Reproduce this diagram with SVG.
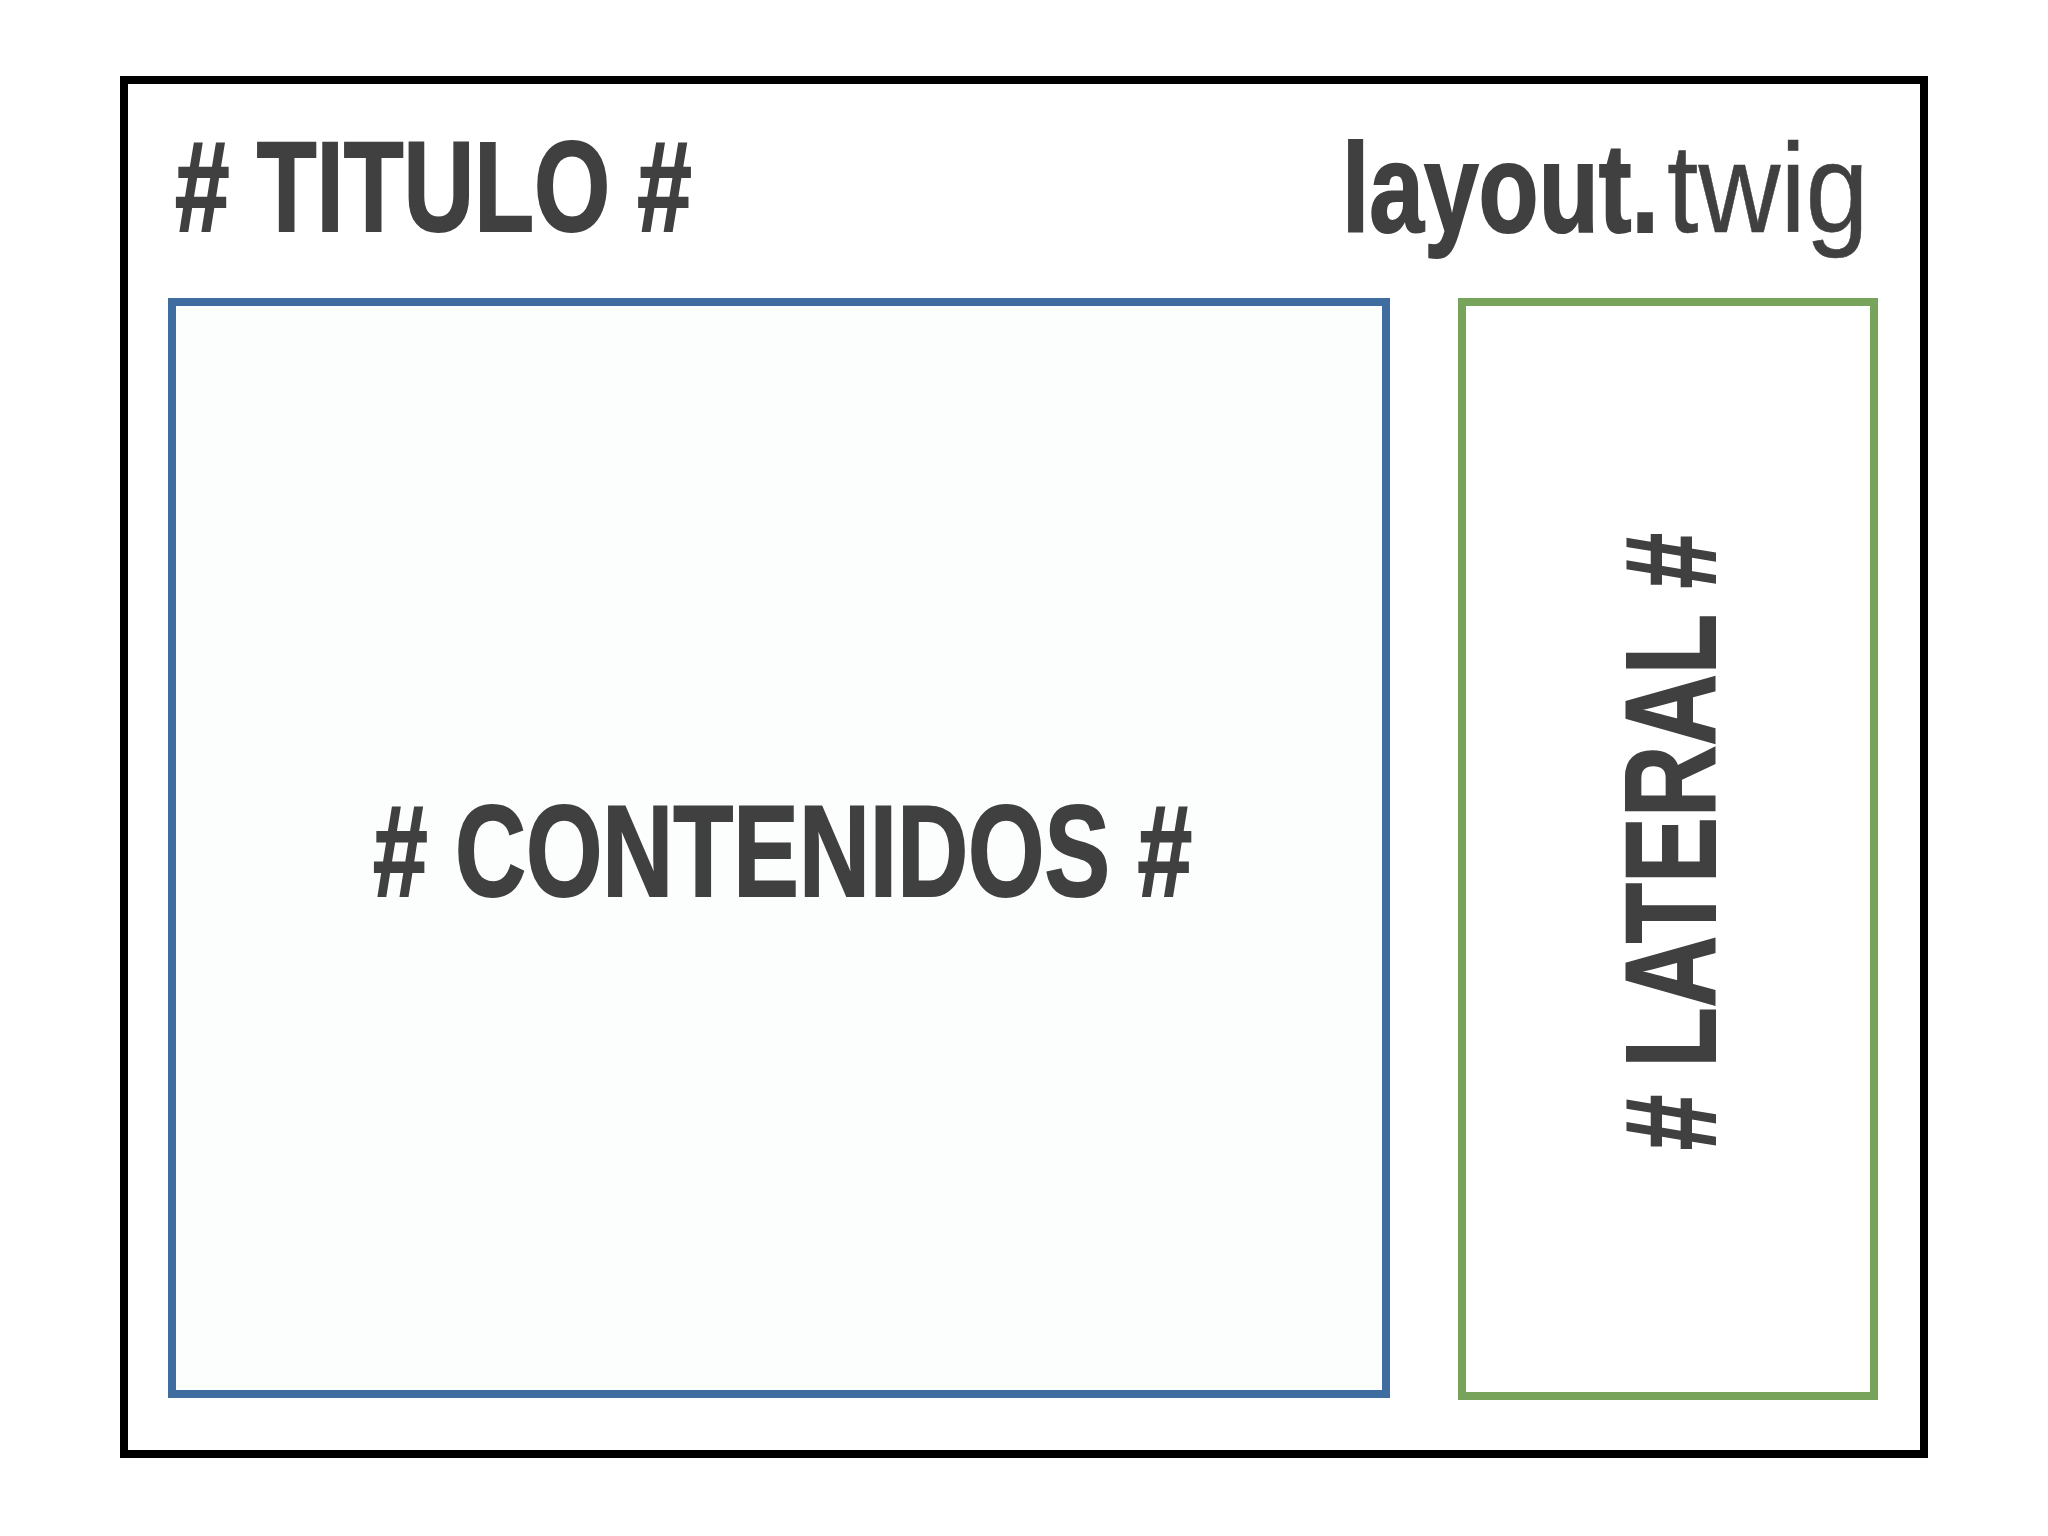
<svg xmlns="http://www.w3.org/2000/svg" width="2048" height="1536" viewBox="0 0 2048 1536">
<style>
.t{font-family:"Liberation Sans",Arial,sans-serif;fill:#404040;font-weight:bold;stroke:#404040;stroke-width:2;stroke-linejoin:miter}
.r{font-weight:normal;stroke-width:0.5}
.box{stroke-width:8}
</style>
<rect width="2048" height="1536" fill="#ffffff"/>
<g id="layout">
<rect x="124" y="80" width="1800" height="1374" fill="#ffffff" stroke="#000000" stroke-width="8"/>
<text class="t" transform="translate(175,231) scale(0.765,1)" font-size="128"># TITULO #</text>
<text class="t" transform="translate(1342,232) scale(0.78,1)" font-size="126">layout.</text>
<text class="t r" transform="translate(1667,232) scale(0.9,1)" font-size="126">twig</text>
</g>
<g id="contenidos">
<rect class="box" x="172" y="302" width="1214" height="1092" fill="#fcfdfd" stroke="#3f6da0"/>
<text class="t" transform="translate(373,896) scale(0.756,1)" font-size="130"># CONTENIDOS #</text>
</g>
<g id="lateral">
<rect class="box" x="1462" y="302" width="412" height="1094" fill="#ffffff" stroke="#78a35a"/>
<text class="t" transform="translate(1715,1150) rotate(-90) scale(0.772,1)" font-size="128"># LATERAL #</text>
</g>
<g id="connectors"/>
</svg>
